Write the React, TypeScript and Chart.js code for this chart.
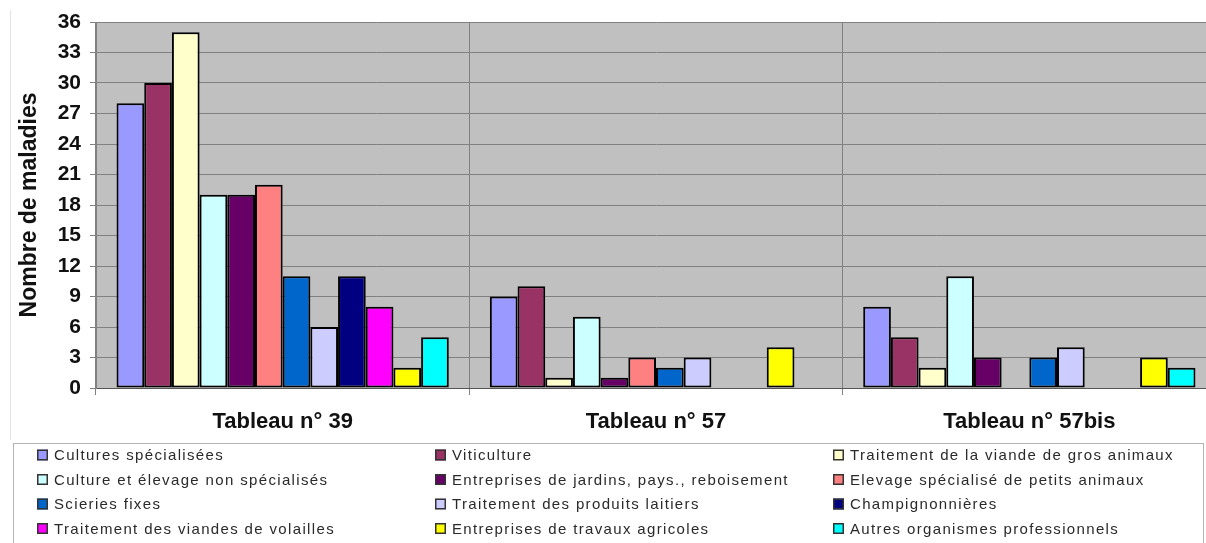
import React, { useEffect, useRef } from "react";
import { Chart, registerables } from "chart.js";

Chart.register(...registerables);

const categories = ["Tableau n° 39", "Tableau n° 57", "Tableau n° 57bis"];

const seriesNames = [
  "Cultures spécialisées",
  "Viticulture",
  "Traitement de la viande de gros animaux",
  "Culture et élevage non spécialisés",
  "Entreprises de jardins, pays., reboisement",
  "Elevage spécialisé de petits animaux",
  "Scieries fixes",
  "Traitement des produits laitiers",
  "Champignonnières",
  "Traitement des viandes de volailles",
  "Entreprises de travaux agricoles",
  "Autres organismes professionnels",
];

const seriesColors = [
  "#9999FF",
  "#993366",
  "#FFFFCC",
  "#CCFFFF",
  "#660066",
  "#FF8080",
  "#0066CC",
  "#CCCCFF",
  "#000080",
  "#FF00FF",
  "#FFFF00",
  "#00FFFF",
];

const culturesSpecialisees = [28, 9, 8];
const viticulture = [30, 10, 5];
const viandeGrosAnimaux = [35, 1, 2];
const cultureElevage = [19, 7, 11];
const jardinsReboisement = [19, 1, 3];
const petitsAnimaux = [20, 3, 0];
const scieriesFixes = [11, 2, 3];
const produitsLaitiers = [6, 3, 4];
const champignonnieres = [11, 0, 0];
const viandesVolailles = [8, 0, 0];
const travauxAgricoles = [2, 4, 3];
const autresOrganismes = [5, 0, 2];

const seriesValues = [
  culturesSpecialisees,
  viticulture,
  viandeGrosAnimaux,
  cultureElevage,
  jardinsReboisement,
  petitsAnimaux,
  scieriesFixes,
  produitsLaitiers,
  champignonnieres,
  viandesVolailles,
  travauxAgricoles,
  autresOrganismes,
];

const yMin = 0;
const yMax = 36;
const yStep = 3;

const FONT = "'Liberation Sans', Arial, Helvetica, sans-serif";

const plotBackground = {
  id: "plotBackground",
  beforeDraw(chart: any) {
    const { ctx, chartArea } = chart;
    ctx.save();
    ctx.fillStyle = "#C0C0C0";
    ctx.fillRect(chartArea.left, chartArea.top, chartArea.right - chartArea.left, chartArea.bottom - chartArea.top);
    ctx.strokeStyle = "#e4e4e4";
    ctx.lineWidth = 1;
    ctx.beginPath();
    ctx.moveTo(10.5, 10);
    ctx.lineTo(10.5, 440);
    ctx.stroke();
    ctx.restore();
  },
};

const gridLegend = {
  id: "gridLegend",
  afterDraw(chart: any) {
    const { ctx } = chart;
    ctx.save();
    ctx.strokeStyle = "#b4b4b4";
    ctx.lineWidth = 1;
    ctx.strokeRect(13.5, 443.5, 1190, 120);
    ctx.font = `15px ${FONT}`;
    (ctx as any).letterSpacing = "1.35px";
    ctx.textBaseline = "middle";
    ctx.textAlign = "left";
    chart.data.datasets.forEach((ds: any, i: number) => {
      const col = i % 3;
      const row = Math.floor(i / 3);
      const sx = 37 + col * 398;
      const cy = 455 + row * 24.5;
      ctx.fillStyle = ds.backgroundColor;
      ctx.fillRect(sx, cy - 5.5, 11, 11);
      ctx.strokeStyle = "#333";
      ctx.lineWidth = 1.5;
      ctx.strokeRect(sx + 0.75, cy - 4.75, 9.5, 9.5);
      ctx.fillStyle = "#2a2a2a";
      ctx.fillText(ds.label, sx + 17, cy + 1);
    });
    ctx.restore();
  },
};

export default function App() {
  const canvasRef = useRef<HTMLCanvasElement | null>(null);

  useEffect(() => {
    if (!canvasRef.current) return;
    const chart = new Chart(canvasRef.current, {
      type: "bar",
      data: {
        labels: categories,
        datasets: seriesNames.map((name, i) => ({
          label: name,
          data: seriesValues[i],
          backgroundColor: seriesColors[i],
          borderColor: "#000000",
          borderWidth: 2,
          borderSkipped: false,
          categoryPercentage: 0.89,
          barPercentage: 1.0,
        })),
      },
      options: {
        animation: false,
        responsive: false,
        maintainAspectRatio: false,
        layout: { padding: { left: 0, top: 22, right: 14, bottom: 0 } },
        plugins: {
          legend: { display: false },
          tooltip: { enabled: false },
          title: { display: false },
        },
        scales: {
          x: {
            offset: true,
            grid: { color: "#808080", offset: true, tickLength: 7, drawTicks: true },
            border: { color: "#555555", width: 1 },
            ticks: {
              color: "#111111",
              padding: 14,
              font: { family: FONT, size: 22, weight: "bold" },
            },
            afterFit(scale: any) {
              scale.height = 155;
            },
          },
          y: {
            min: yMin,
            max: yMax,
            grid: { color: "#808080", tickLength: 6, drawTicks: true },
            border: { color: "#808080" },
            ticks: {
              stepSize: yStep,
              color: "#111111",
              padding: 9,
              font: { family: FONT, size: 21, weight: "bold" },
            },
            title: {
              display: true,
              text: "Nombre de maladies",
              color: "#111111",
              padding: { top: 16, bottom: 0 },
              font: { family: FONT, size: 23, weight: "bold" },
            },
            afterFit(scale: any) {
              scale.width = 96;
            },
          },
        },
      },
      plugins: [plotBackground, gridLegend],
    });
    return () => chart.destroy();
  }, []);

  return (
    <div
      style={{
        position: "absolute",
        left: 0,
        top: 0,
        width: 1206,
        height: 543,
        overflow: "hidden",
        background: "#ffffff",
      }}
    >
      <canvas ref={canvasRef} width={1230} height={543} style={{ display: "block" }} />
    </div>
  );
}
